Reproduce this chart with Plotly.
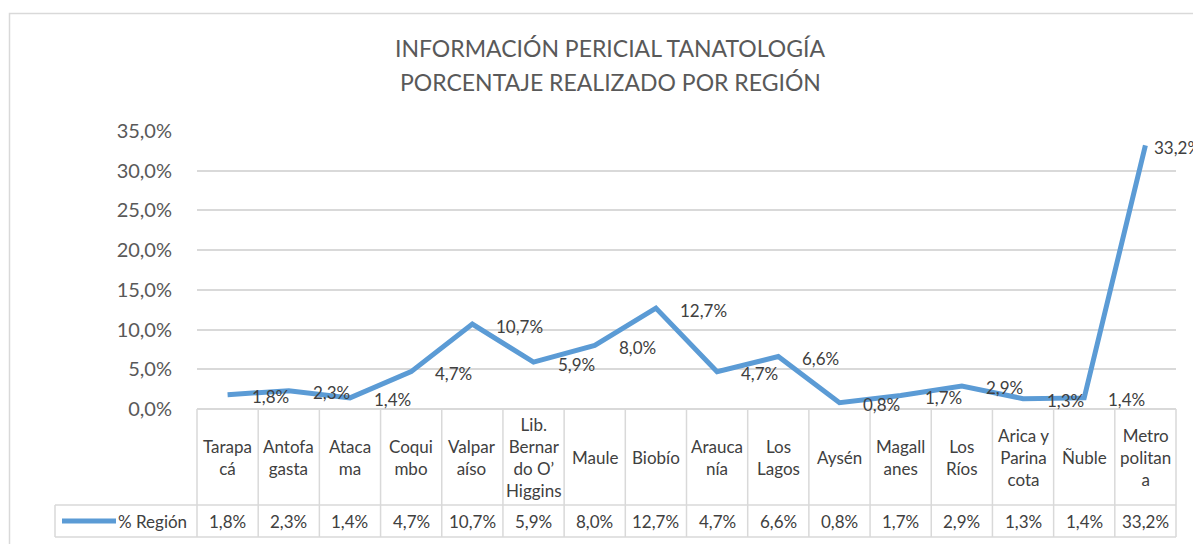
import plotly.graph_objects as go

categories = ["Tarapacá", "Antofagasta", "Atacama", "Coquimbo", "Valparaíso",
              "Lib. Bernardo O’Higgins", "Maule", "Biobío", "Araucanía", "Los Lagos",
              "Aysén", "Magallanes", "Los Ríos", "Arica y Parinacota", "Ñuble", "Metropolitana"]
header_labels = ["Tarapa<br>cá", "Antofa<br>gasta", "Ataca<br>ma", "Coqui<br>mbo", "Valpar<br>aíso",
                 "Lib.<br>Bernar<br>do O’<br>Higgins", "Maule", "Biobío", "Arauca<br>nía", "Los<br>Lagos",
                 "Aysén", "Magall<br>anes", "Los<br>Ríos", "Arica y<br>Parina<br>cota", "Ñuble",
                 "Metro<br>politan<br>a"]
values = [1.8, 2.3, 1.4, 4.7, 10.7, 5.9, 8.0, 12.7, 4.7, 6.6, 0.8, 1.7, 2.9, 1.3, 1.4, 33.2]
series_name = "% Región"
title_lines = ["INFORMACIÓN PERICIAL TANATOLOGÍA", "PORCENTAJE REALIZADO POR REGIÓN"]
y_ticks = [0, 5, 10, 15, 20, 25, 30, 35]

W, H = 1193, 544
PL, PR, PT, PB = 197, 1176, 131, 409
FONT = "Lato"
LINE_COLOR = "#5b9bd5"
GRID = "#d9d9d9"
TXT = "#404040"


def fmt(v):
    return f"{v:.1f}".replace(".", ",") + "%"


def px(x):
    return (x - PL) / (PR - PL)


def py(y):
    return (PB - y) / (PB - PT)


n = len(categories)
fig = go.Figure()
fig.add_trace(go.Scatter(x=list(range(n)), y=values, mode="lines",
                         line=dict(color=LINE_COLOR, width=5), name=series_name,
                         showlegend=False, hoverinfo="skip"))

annotations = []
# data labels
for i, v in enumerate(values):
    annotations.append(dict(x=i, y=v, xref="x", yref="y", text=fmt(v), showarrow=False,
                            xanchor="left", yanchor="middle",
                            xshift=7 if i == n - 1 else 22, yshift=-2,
                            font=dict(family=FONT, size=17, color=TXT)))

# title
for t, yy in zip(title_lines, [48, 82]):
    annotations.append(dict(x=px(610), y=py(yy), xref="paper", yref="paper", text=t,
                            showarrow=False, xanchor="center", yanchor="middle",
                            font=dict(family=FONT, size=23, color="#595959")))

shapes = []
# outer chart border
shapes.append(dict(type="rect", xref="paper", yref="paper", x0=px(9.5), x1=px(1215),
                   y0=py(13.5), y1=py(570), line=dict(color=GRID, width=1.5)))

# data table
ROW1_TOP, ROW2_TOP, ROW2_BOT = 409, 505, 537
colw = (PR - PL) / n
for i in range(n + 1):
    xx = PL + i * colw
    shapes.append(dict(type="line", xref="paper", yref="paper", x0=px(xx), x1=px(xx),
                       y0=py(ROW1_TOP), y1=py(ROW2_BOT), line=dict(color=GRID, width=1.5)))
shapes.append(dict(type="line", xref="paper", yref="paper", x0=px(55), x1=px(55),
                   y0=py(ROW2_TOP), y1=py(ROW2_BOT), line=dict(color=GRID, width=1.5)))
for yy in [ROW2_TOP, ROW2_BOT]:
    shapes.append(dict(type="line", xref="paper", yref="paper", x0=px(55), x1=px(PR),
                       y0=py(yy), y1=py(yy), line=dict(color=GRID, width=1.5)))
# legend key
shapes.append(dict(type="line", xref="paper", yref="paper", x0=px(62), x1=px(116),
                   y0=py(521), y1=py(521), line=dict(color=LINE_COLOR, width=5)))
annotations.append(dict(x=px(189), y=py(521), xref="paper", yref="paper", text=series_name,
                        showarrow=False, xanchor="right", yanchor="middle",
                        font=dict(family=FONT, size=17, color=TXT)))

for i, (lab, v) in enumerate(zip(header_labels, values)):
    cx = px(PL + (i + 0.5) * colw)
    annotations.append(dict(x=cx, y=py((ROW1_TOP + ROW2_TOP) / 2), xref="paper", yref="paper",
                            text=lab, showarrow=False, xanchor="center", yanchor="middle",
                            align="center",
                            font=dict(family=FONT, size=17, color=TXT)))
    annotations.append(dict(x=cx, y=py(521), xref="paper", yref="paper",
                            text=fmt(v), showarrow=False, xanchor="center", yanchor="middle",
                            font=dict(family=FONT, size=17, color=TXT)))

fig.update_layout(
    width=W, height=H,
    margin=dict(l=PL, r=W - PR, t=PT, b=H - PB, pad=0),
    paper_bgcolor="white", plot_bgcolor="white",
    showlegend=False,
    xaxis=dict(range=[-0.5, n - 0.5], showgrid=False, showticklabels=False,
               zeroline=False, showline=False, fixedrange=True),
    yaxis=dict(range=[0, 35], tickvals=y_ticks, ticktext=[fmt(v) for v in y_ticks],
               showgrid=True, gridcolor=GRID, gridwidth=1.5, zeroline=True,
               zerolinecolor=GRID, zerolinewidth=1.5, showline=False,
               ticklabelstandoff=24, ticks="",
               tickfont=dict(family=FONT, size=20, color="#595959"), fixedrange=True),
    annotations=annotations,
    shapes=shapes,
)

fig.write_html("out.html", config={"displayModeBar": False},
               post_script="document.body.style.margin='0px';")
